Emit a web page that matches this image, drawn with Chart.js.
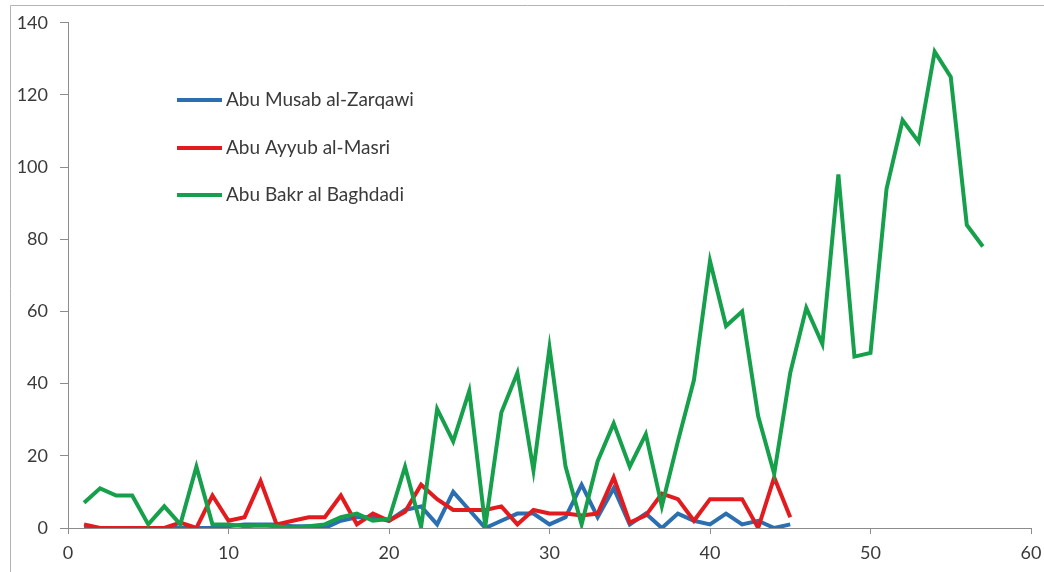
<!doctype html>
<html lang="en">
  <head>
    <meta charset="UTF-8" />
    <title>Leaders</title>
    <script src="https://cdn.jsdelivr.net/npm/chart.js"></script>
    <style>
      body { margin: 0; background: #fff; }
      #wrap { position: relative; width: 1044px; height: 572px; }
    </style>
  </head>
  <body>
    <div id="wrap"><canvas id="leaderChart"></canvas></div>
    <script>
      // x positions (months) and series values
      var xs = [];
      for (var i = 1; i <= 57; i++) xs.push(i);

      var zarqawi = [0, 0, 0, 0, 0, 0, 0, 0, 0, 0.5, 1, 1, 1, 0.5, 0.5, 0, 2, 3, 3, 2,
        5, 6, 1, 10, 5, 0, 2, 4, 4, 1, 3, 12, 3, 11, 1, 4, 0, 4, 2, 1, 4, 1, 2, 0, 1];
      var masri = [1, 0, 0, 0, 0, 0, 1.5, 0, 9, 2, 3, 13, 1, 2, 3, 3, 9, 1, 4, 2,
        4.5, 12, 8, 5, 5, 5, 6, 1, 5, 4, 4, 3.5, 4, 14, 1.5, 3.5, 9.5, 8, 2, 8, 8, 8, 0, 14, 3];
      var baghdadi = [7, 11, 9, 9, 1, 6, 1, 17, 1, 1, 0.5, 0.7, 0.5, 0, 0.5, 1, 3, 4, 2, 2.5,
        17, 0.3, 33, 24, 38, 0.5, 32, 43, 16, 50, 17, 1, 18.5, 29, 17, 26, 6, 24, 41, 74,
        56, 60, 31, 15, 43, 61, 51, 98, 47.5, 48.5, 94, 113, 107, 132, 125, 84, 78];

      var seriesNames = ["Abu Musab al-Zarqawi", "Abu Ayyub al-Masri", "Abu Bakr al Baghdadi"];
      var seriesColors = ["#2c6fb0", "#e21b1e", "#17a04c"];

      function toPoints(vals) {
        return vals.map(function (v, k) { return { x: xs[k], y: v }; });
      }

      // frame lines on the left and top, like the original picture
      var framePlugin = {
        id: "frame",
        beforeDraw: function (chart) {
          var c = chart.ctx;
          c.save();
          c.strokeStyle = "#b4b4b4";
          c.lineWidth = 1;
          c.beginPath();
          c.moveTo(10.5, 572);
          c.lineTo(10.5, 5.5);
          c.lineTo(1044, 5.5);
          c.stroke();
          c.restore();
        },
      };

      // legend drawn inside the plot, upper left
      var innerLegend = {
        id: "innerLegend",
        afterDraw: function (chart) {
          var c = chart.ctx;
          c.save();
          c.font = "19px Lato";
          c.textBaseline = "middle";
          c.fillStyle = "#3a3a3a";
          var ys = [100, 148, 195];
          seriesNames.forEach(function (name, k) {
            c.strokeStyle = seriesColors[k];
            c.lineWidth = 4;
            c.beginPath();
            c.moveTo(177, ys[k]);
            c.lineTo(222, ys[k]);
            c.stroke();
            c.fillText(name, 226, ys[k]);
          });
          c.restore();
        },
      };

      var ctx = document.getElementById("leaderChart").getContext("2d");
      var leaderChart = new Chart(ctx, {
        type: "line",
        data: {
          datasets: [
            { label: seriesNames[0], data: toPoints(zarqawi), borderColor: seriesColors[0], order: 2 },
            { label: seriesNames[1], data: toPoints(masri), borderColor: seriesColors[1], order: 1 },
            { label: seriesNames[2], data: toPoints(baghdadi), borderColor: seriesColors[2], order: 0 },
          ],
        },
        options: {
          responsive: true,
          maintainAspectRatio: false,
          animation: false,
          layout: { padding: { left: 0, top: 20, right: 13, bottom: 0 } },
          elements: {
            line: { borderWidth: 4, tension: 0, fill: false },
            point: { radius: 0 },
          },
          plugins: { legend: { display: false }, tooltip: { enabled: false } },
          scales: {
            x: {
              type: "linear",
              min: 0,
              max: 60,
              ticks: { stepSize: 10, color: "#3a3a3a", font: { family: "Lato", size: 18 }, padding: 8 },
              grid: { drawOnChartArea: false, drawTicks: true, tickLength: 6, color: "#8c8c8c" },
              border: { color: "#8c8c8c", width: 1 },
              afterFit: function (s) { s.height = 44; s.paddingRight = 0; s.paddingLeft = 0; },
            },
            y: {
              min: 0,
              max: 140,
              ticks: { stepSize: 20, color: "#3a3a3a", font: { family: "Lato", size: 18 }, padding: 12 },
              grid: { drawOnChartArea: false, drawTicks: true, tickLength: 8, color: "#8c8c8c" },
              border: { color: "#8c8c8c", width: 1 },
              afterFit: function (s) { s.width = 68; },
            },
          },
        },
        plugins: [framePlugin, innerLegend],
      });
    </script>
  </body>
</html>
